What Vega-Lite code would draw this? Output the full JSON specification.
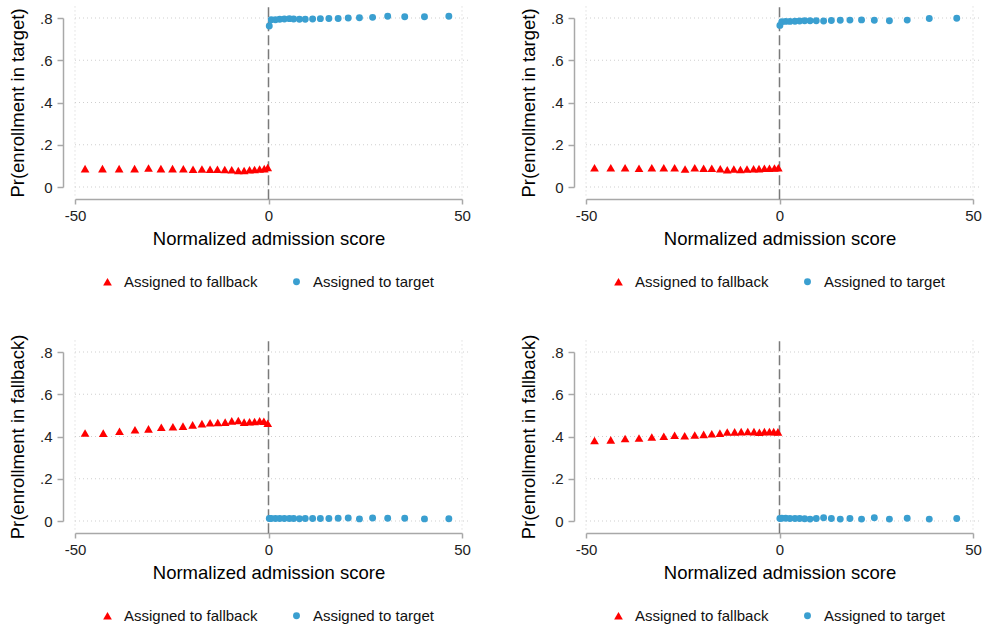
{
  "$schema": "https://vega.github.io/schema/vega-lite/v6.json",
  "padding": {"left": 8, "top": 3, "right": 0, "bottom": 0},
  "background": "white",
  "datasets": {
    "hgrid": [{"v": 0}, {"v": 0.2}, {"v": 0.4}, {"v": 0.6}, {"v": 0.8}],
    "vgrid": [{"v": -50}, {"v": 50}],
    "cutoff": [{"v": 0}],
    "points": [
      {"p": "a", "g": "Assigned to fallback", "x": -47.4, "y": 0.087},
      {"p": "a", "g": "Assigned to fallback", "x": -42.9, "y": 0.087},
      {"p": "a", "g": "Assigned to fallback", "x": -38.6, "y": 0.087},
      {"p": "a", "g": "Assigned to fallback", "x": -34.6, "y": 0.087},
      {"p": "a", "g": "Assigned to fallback", "x": -31.0, "y": 0.090},
      {"p": "a", "g": "Assigned to fallback", "x": -27.8, "y": 0.087},
      {"p": "a", "g": "Assigned to fallback", "x": -24.8, "y": 0.087},
      {"p": "a", "g": "Assigned to fallback", "x": -22.0, "y": 0.086},
      {"p": "a", "g": "Assigned to fallback", "x": -19.5, "y": 0.084},
      {"p": "a", "g": "Assigned to fallback", "x": -17.2, "y": 0.085},
      {"p": "a", "g": "Assigned to fallback", "x": -15.1, "y": 0.084},
      {"p": "a", "g": "Assigned to fallback", "x": -13.2, "y": 0.084},
      {"p": "a", "g": "Assigned to fallback", "x": -11.3, "y": 0.083},
      {"p": "a", "g": "Assigned to fallback", "x": -9.5, "y": 0.082},
      {"p": "a", "g": "Assigned to fallback", "x": -7.8, "y": 0.078},
      {"p": "a", "g": "Assigned to fallback", "x": -6.3, "y": 0.078},
      {"p": "a", "g": "Assigned to fallback", "x": -4.9, "y": 0.082},
      {"p": "a", "g": "Assigned to fallback", "x": -3.6, "y": 0.083},
      {"p": "a", "g": "Assigned to fallback", "x": -2.3, "y": 0.085},
      {"p": "a", "g": "Assigned to fallback", "x": -1.1, "y": 0.087},
      {"p": "a", "g": "Assigned to fallback", "x": -0.2, "y": 0.092},
      {"p": "a", "g": "Assigned to target", "x": 0.2, "y": 0.762},
      {"p": "a", "g": "Assigned to target", "x": 0.7, "y": 0.792},
      {"p": "a", "g": "Assigned to target", "x": 1.8, "y": 0.792},
      {"p": "a", "g": "Assigned to target", "x": 2.9, "y": 0.794},
      {"p": "a", "g": "Assigned to target", "x": 4.1, "y": 0.795},
      {"p": "a", "g": "Assigned to target", "x": 5.4, "y": 0.797},
      {"p": "a", "g": "Assigned to target", "x": 6.5, "y": 0.795},
      {"p": "a", "g": "Assigned to target", "x": 8.0, "y": 0.794},
      {"p": "a", "g": "Assigned to target", "x": 9.5, "y": 0.794},
      {"p": "a", "g": "Assigned to target", "x": 11.4, "y": 0.795},
      {"p": "a", "g": "Assigned to target", "x": 13.4, "y": 0.797},
      {"p": "a", "g": "Assigned to target", "x": 15.6, "y": 0.798},
      {"p": "a", "g": "Assigned to target", "x": 18.0, "y": 0.798},
      {"p": "a", "g": "Assigned to target", "x": 20.6, "y": 0.800},
      {"p": "a", "g": "Assigned to target", "x": 23.5, "y": 0.801},
      {"p": "a", "g": "Assigned to target", "x": 26.9, "y": 0.803},
      {"p": "a", "g": "Assigned to target", "x": 30.8, "y": 0.808},
      {"p": "a", "g": "Assigned to target", "x": 35.2, "y": 0.806},
      {"p": "a", "g": "Assigned to target", "x": 40.3, "y": 0.806},
      {"p": "a", "g": "Assigned to target", "x": 46.6, "y": 0.808},

      {"p": "b", "g": "Assigned to fallback", "x": -47.8, "y": 0.091},
      {"p": "b", "g": "Assigned to fallback", "x": -43.6, "y": 0.091},
      {"p": "b", "g": "Assigned to fallback", "x": -39.9, "y": 0.091},
      {"p": "b", "g": "Assigned to fallback", "x": -36.3, "y": 0.089},
      {"p": "b", "g": "Assigned to fallback", "x": -33.0, "y": 0.091},
      {"p": "b", "g": "Assigned to fallback", "x": -29.9, "y": 0.091},
      {"p": "b", "g": "Assigned to fallback", "x": -27.1, "y": 0.091},
      {"p": "b", "g": "Assigned to fallback", "x": -24.4, "y": 0.085},
      {"p": "b", "g": "Assigned to fallback", "x": -21.9, "y": 0.091},
      {"p": "b", "g": "Assigned to fallback", "x": -19.6, "y": 0.089},
      {"p": "b", "g": "Assigned to fallback", "x": -17.5, "y": 0.089},
      {"p": "b", "g": "Assigned to fallback", "x": -15.3, "y": 0.086},
      {"p": "b", "g": "Assigned to fallback", "x": -13.5, "y": 0.082},
      {"p": "b", "g": "Assigned to fallback", "x": -11.8, "y": 0.085},
      {"p": "b", "g": "Assigned to fallback", "x": -10.1, "y": 0.083},
      {"p": "b", "g": "Assigned to fallback", "x": -8.4, "y": 0.085},
      {"p": "b", "g": "Assigned to fallback", "x": -6.7, "y": 0.086},
      {"p": "b", "g": "Assigned to fallback", "x": -5.3, "y": 0.087},
      {"p": "b", "g": "Assigned to fallback", "x": -3.9, "y": 0.089},
      {"p": "b", "g": "Assigned to fallback", "x": -2.6, "y": 0.089},
      {"p": "b", "g": "Assigned to fallback", "x": -1.3, "y": 0.090},
      {"p": "b", "g": "Assigned to fallback", "x": -0.3, "y": 0.091},
      {"p": "b", "g": "Assigned to target", "x": 0.1, "y": 0.765},
      {"p": "b", "g": "Assigned to target", "x": 0.6, "y": 0.782},
      {"p": "b", "g": "Assigned to target", "x": 1.6, "y": 0.784},
      {"p": "b", "g": "Assigned to target", "x": 2.7, "y": 0.784},
      {"p": "b", "g": "Assigned to target", "x": 4.0, "y": 0.785},
      {"p": "b", "g": "Assigned to target", "x": 5.2, "y": 0.786},
      {"p": "b", "g": "Assigned to target", "x": 6.5, "y": 0.787},
      {"p": "b", "g": "Assigned to target", "x": 7.9, "y": 0.787},
      {"p": "b", "g": "Assigned to target", "x": 9.5, "y": 0.787},
      {"p": "b", "g": "Assigned to target", "x": 11.4, "y": 0.786},
      {"p": "b", "g": "Assigned to target", "x": 13.4, "y": 0.788},
      {"p": "b", "g": "Assigned to target", "x": 15.7, "y": 0.789},
      {"p": "b", "g": "Assigned to target", "x": 18.2, "y": 0.790},
      {"p": "b", "g": "Assigned to target", "x": 21.2, "y": 0.791},
      {"p": "b", "g": "Assigned to target", "x": 24.5, "y": 0.789},
      {"p": "b", "g": "Assigned to target", "x": 28.4, "y": 0.787},
      {"p": "b", "g": "Assigned to target", "x": 33.0, "y": 0.790},
      {"p": "b", "g": "Assigned to target", "x": 38.7, "y": 0.798},
      {"p": "b", "g": "Assigned to target", "x": 45.8, "y": 0.799},

      {"p": "c", "g": "Assigned to fallback", "x": -47.4, "y": 0.417},
      {"p": "c", "g": "Assigned to fallback", "x": -42.7, "y": 0.416},
      {"p": "c", "g": "Assigned to fallback", "x": -38.5, "y": 0.425},
      {"p": "c", "g": "Assigned to fallback", "x": -34.5, "y": 0.432},
      {"p": "c", "g": "Assigned to fallback", "x": -31.0, "y": 0.436},
      {"p": "c", "g": "Assigned to fallback", "x": -27.7, "y": 0.444},
      {"p": "c", "g": "Assigned to fallback", "x": -24.7, "y": 0.446},
      {"p": "c", "g": "Assigned to fallback", "x": -22.1, "y": 0.449},
      {"p": "c", "g": "Assigned to fallback", "x": -19.6, "y": 0.455},
      {"p": "c", "g": "Assigned to fallback", "x": -17.2, "y": 0.461},
      {"p": "c", "g": "Assigned to fallback", "x": -15.1, "y": 0.465},
      {"p": "c", "g": "Assigned to fallback", "x": -13.1, "y": 0.466},
      {"p": "c", "g": "Assigned to fallback", "x": -11.2, "y": 0.468},
      {"p": "c", "g": "Assigned to fallback", "x": -9.5, "y": 0.474},
      {"p": "c", "g": "Assigned to fallback", "x": -7.8, "y": 0.476},
      {"p": "c", "g": "Assigned to fallback", "x": -6.3, "y": 0.468},
      {"p": "c", "g": "Assigned to fallback", "x": -4.9, "y": 0.470},
      {"p": "c", "g": "Assigned to fallback", "x": -3.6, "y": 0.471},
      {"p": "c", "g": "Assigned to fallback", "x": -2.3, "y": 0.474},
      {"p": "c", "g": "Assigned to fallback", "x": -1.2, "y": 0.472},
      {"p": "c", "g": "Assigned to fallback", "x": -0.2, "y": 0.463},
      {"p": "c", "g": "Assigned to target", "x": 0.2, "y": 0.012},
      {"p": "c", "g": "Assigned to target", "x": 0.7, "y": 0.012},
      {"p": "c", "g": "Assigned to target", "x": 1.8, "y": 0.012},
      {"p": "c", "g": "Assigned to target", "x": 2.9, "y": 0.012},
      {"p": "c", "g": "Assigned to target", "x": 4.1, "y": 0.012},
      {"p": "c", "g": "Assigned to target", "x": 5.4, "y": 0.012},
      {"p": "c", "g": "Assigned to target", "x": 6.5, "y": 0.012},
      {"p": "c", "g": "Assigned to target", "x": 8.0, "y": 0.011},
      {"p": "c", "g": "Assigned to target", "x": 9.5, "y": 0.012},
      {"p": "c", "g": "Assigned to target", "x": 11.4, "y": 0.012},
      {"p": "c", "g": "Assigned to target", "x": 13.4, "y": 0.012},
      {"p": "c", "g": "Assigned to target", "x": 15.6, "y": 0.012},
      {"p": "c", "g": "Assigned to target", "x": 18.0, "y": 0.013},
      {"p": "c", "g": "Assigned to target", "x": 20.6, "y": 0.014},
      {"p": "c", "g": "Assigned to target", "x": 23.5, "y": 0.010},
      {"p": "c", "g": "Assigned to target", "x": 26.9, "y": 0.014},
      {"p": "c", "g": "Assigned to target", "x": 30.8, "y": 0.013},
      {"p": "c", "g": "Assigned to target", "x": 35.2, "y": 0.013},
      {"p": "c", "g": "Assigned to target", "x": 40.3, "y": 0.010},
      {"p": "c", "g": "Assigned to target", "x": 46.6, "y": 0.011},

      {"p": "d", "g": "Assigned to fallback", "x": -47.8, "y": 0.381},
      {"p": "d", "g": "Assigned to fallback", "x": -43.6, "y": 0.384},
      {"p": "d", "g": "Assigned to fallback", "x": -39.9, "y": 0.391},
      {"p": "d", "g": "Assigned to fallback", "x": -36.3, "y": 0.393},
      {"p": "d", "g": "Assigned to fallback", "x": -33.0, "y": 0.398},
      {"p": "d", "g": "Assigned to fallback", "x": -29.9, "y": 0.401},
      {"p": "d", "g": "Assigned to fallback", "x": -27.1, "y": 0.406},
      {"p": "d", "g": "Assigned to fallback", "x": -24.5, "y": 0.404},
      {"p": "d", "g": "Assigned to fallback", "x": -21.9, "y": 0.407},
      {"p": "d", "g": "Assigned to fallback", "x": -19.6, "y": 0.410},
      {"p": "d", "g": "Assigned to fallback", "x": -17.5, "y": 0.413},
      {"p": "d", "g": "Assigned to fallback", "x": -15.4, "y": 0.416},
      {"p": "d", "g": "Assigned to fallback", "x": -13.5, "y": 0.421},
      {"p": "d", "g": "Assigned to fallback", "x": -11.6, "y": 0.422},
      {"p": "d", "g": "Assigned to fallback", "x": -9.9, "y": 0.423},
      {"p": "d", "g": "Assigned to fallback", "x": -8.2, "y": 0.424},
      {"p": "d", "g": "Assigned to fallback", "x": -6.6, "y": 0.423},
      {"p": "d", "g": "Assigned to fallback", "x": -5.2, "y": 0.420},
      {"p": "d", "g": "Assigned to fallback", "x": -3.9, "y": 0.423},
      {"p": "d", "g": "Assigned to fallback", "x": -2.6, "y": 0.424},
      {"p": "d", "g": "Assigned to fallback", "x": -1.5, "y": 0.423},
      {"p": "d", "g": "Assigned to fallback", "x": -0.4, "y": 0.422},
      {"p": "d", "g": "Assigned to target", "x": 0.1, "y": 0.012},
      {"p": "d", "g": "Assigned to target", "x": 0.6, "y": 0.013},
      {"p": "d", "g": "Assigned to target", "x": 1.6, "y": 0.013},
      {"p": "d", "g": "Assigned to target", "x": 2.7, "y": 0.012},
      {"p": "d", "g": "Assigned to target", "x": 4.0, "y": 0.012},
      {"p": "d", "g": "Assigned to target", "x": 5.2, "y": 0.012},
      {"p": "d", "g": "Assigned to target", "x": 6.5, "y": 0.011},
      {"p": "d", "g": "Assigned to target", "x": 7.9, "y": 0.009},
      {"p": "d", "g": "Assigned to target", "x": 9.5, "y": 0.012},
      {"p": "d", "g": "Assigned to target", "x": 11.4, "y": 0.015},
      {"p": "d", "g": "Assigned to target", "x": 13.4, "y": 0.012},
      {"p": "d", "g": "Assigned to target", "x": 15.7, "y": 0.009},
      {"p": "d", "g": "Assigned to target", "x": 18.2, "y": 0.012},
      {"p": "d", "g": "Assigned to target", "x": 21.2, "y": 0.009},
      {"p": "d", "g": "Assigned to target", "x": 24.5, "y": 0.015},
      {"p": "d", "g": "Assigned to target", "x": 28.4, "y": 0.009},
      {"p": "d", "g": "Assigned to target", "x": 33.0, "y": 0.013},
      {"p": "d", "g": "Assigned to target", "x": 38.7, "y": 0.009},
      {"p": "d", "g": "Assigned to target", "x": 45.8, "y": 0.012}
    ]
  },
  "columns": 2,
  "bounds": "flush",
  "spacing": {"row": 165, "column": 124},
  "resolve": {
    "scale": {"color": "independent", "shape": "independent", "size": "independent"},
    "legend": {"color": "independent", "shape": "independent", "size": "independent"}
  },
  "concat": [
    {
      "width": 387, "height": 169,
      "layer": [
        {"data": {"name": "hgrid"}, "mark": {"type": "rule", "color": "#cfcfcf", "strokeDash": [1, 3], "strokeWidth": 1, "clip": false},
         "encoding": {"y": {"field": "v", "type": "quantitative", "scale": {"domain": [0, 0.8], "nice": false, "zero": false}, "axis": {"title": "Pr(enrollment in target)", "values": [0, 0.2, 0.4, 0.6, 0.8], "labelExpr": "datum.value == 0 ? '0' : replace(format(datum.value, '.1f'), '0.', '.')"}}, "x": {"datum": -50, "scale": {"domain": [-50, 50], "nice": false, "zero": false}, "axis": {"title": "Normalized admission score", "values": [-50, 0, 50], "labelExpr": "'' + datum.value"}}, "x2": {"datum": 51.8}}},
        {"data": {"name": "vgrid"}, "mark": {"type": "rule", "color": "#cfcfcf", "strokeDash": [1, 3], "strokeWidth": 1, "clip": false},
         "encoding": {"x": {"field": "v", "type": "quantitative", "axis": {"title": "Normalized admission score", "values": [-50, 0, 50], "labelExpr": "'' + datum.value"}}, "y": {"datum": -0.04, "axis": {"title": "Pr(enrollment in target)", "values": [0, 0.2, 0.4, 0.6, 0.8], "labelExpr": "datum.value == 0 ? '0' : replace(format(datum.value, '.1f'), '0.', '.')"}}, "y2": {"datum": 0.857}}},
        {"data": {"name": "cutoff"}, "mark": {"type": "rule", "color": "#7a7a7a", "strokeDash": [10, 4], "strokeWidth": 1.5, "clip": false},
         "encoding": {"x": {"field": "v", "type": "quantitative", "axis": {"title": "Normalized admission score", "values": [-50, 0, 50], "labelExpr": "'' + datum.value"}}, "y": {"datum": -0.058, "axis": {"title": "Pr(enrollment in target)", "values": [0, 0.2, 0.4, 0.6, 0.8], "labelExpr": "datum.value == 0 ? '0' : replace(format(datum.value, '.1f'), '0.', '.')"}}, "y2": {"datum": 0.864}}},
        {"data": {"name": "points"}, "transform": [{"filter": "datum.p === 'a'"}],
         "mark": {"type": "point", "filled": true, "opacity": 1, "strokeWidth": 0, "clip": false},
         "encoding": {
           "x": {"field": "x", "type": "quantitative", "axis": {"title": "Normalized admission score", "values": [-50, 0, 50], "labelExpr": "'' + datum.value"}},
           "y": {"field": "y", "type": "quantitative", "axis": {"title": "Pr(enrollment in target)", "values": [0, 0.2, 0.4, 0.6, 0.8], "labelExpr": "datum.value == 0 ? '0' : replace(format(datum.value, '.1f'), '0.', '.')"}},
           "color": {"field": "g", "type": "nominal", "scale": {"domain": ["Assigned to fallback", "Assigned to target"], "range": ["#ff0000", "#3a9fd0"]}, "legend": {"orient": "none", "legendX": 25, "legendY": 256, "direction": "horizontal", "title": null}},
           "shape": {"field": "g", "type": "nominal", "scale": {"domain": ["Assigned to fallback", "Assigned to target"], "range": ["triangle-up", "circle"]}, "legend": {"orient": "none", "legendX": 25, "legendY": 256, "direction": "horizontal", "title": null}},
           "size": {"field": "g", "type": "nominal", "scale": {"domain": ["Assigned to fallback", "Assigned to target"], "range": [76, 48]}, "legend": {"orient": "none", "legendX": 25, "legendY": 256, "direction": "horizontal", "title": null}}
         }}
      ]
    },
    {
      "width": 387, "height": 169,
      "layer": [
        {"data": {"name": "hgrid"}, "mark": {"type": "rule", "color": "#cfcfcf", "strokeDash": [1, 3], "strokeWidth": 1, "clip": false},
         "encoding": {"y": {"field": "v", "type": "quantitative", "scale": {"domain": [0, 0.8], "nice": false, "zero": false}, "axis": {"title": "Pr(enrollment in target)", "values": [0, 0.2, 0.4, 0.6, 0.8], "labelExpr": "datum.value == 0 ? '0' : replace(format(datum.value, '.1f'), '0.', '.')"}}, "x": {"datum": -50, "scale": {"domain": [-50, 50], "nice": false, "zero": false}, "axis": {"title": "Normalized admission score", "values": [-50, 0, 50], "labelExpr": "'' + datum.value"}}, "x2": {"datum": 51.8}}},
        {"data": {"name": "vgrid"}, "mark": {"type": "rule", "color": "#cfcfcf", "strokeDash": [1, 3], "strokeWidth": 1, "clip": false},
         "encoding": {"x": {"field": "v", "type": "quantitative", "axis": {"title": "Normalized admission score", "values": [-50, 0, 50], "labelExpr": "'' + datum.value"}}, "y": {"datum": -0.04, "axis": {"title": "Pr(enrollment in target)", "values": [0, 0.2, 0.4, 0.6, 0.8], "labelExpr": "datum.value == 0 ? '0' : replace(format(datum.value, '.1f'), '0.', '.')"}}, "y2": {"datum": 0.857}}},
        {"data": {"name": "cutoff"}, "mark": {"type": "rule", "color": "#7a7a7a", "strokeDash": [10, 4], "strokeWidth": 1.5, "clip": false},
         "encoding": {"x": {"field": "v", "type": "quantitative", "axis": {"title": "Normalized admission score", "values": [-50, 0, 50], "labelExpr": "'' + datum.value"}}, "y": {"datum": -0.058, "axis": {"title": "Pr(enrollment in target)", "values": [0, 0.2, 0.4, 0.6, 0.8], "labelExpr": "datum.value == 0 ? '0' : replace(format(datum.value, '.1f'), '0.', '.')"}}, "y2": {"datum": 0.864}}},
        {"data": {"name": "points"}, "transform": [{"filter": "datum.p === 'b'"}],
         "mark": {"type": "point", "filled": true, "opacity": 1, "strokeWidth": 0, "clip": false},
         "encoding": {
           "x": {"field": "x", "type": "quantitative", "axis": {"title": "Normalized admission score", "values": [-50, 0, 50], "labelExpr": "'' + datum.value"}},
           "y": {"field": "y", "type": "quantitative", "axis": {"title": "Pr(enrollment in target)", "values": [0, 0.2, 0.4, 0.6, 0.8], "labelExpr": "datum.value == 0 ? '0' : replace(format(datum.value, '.1f'), '0.', '.')"}},
           "color": {"field": "g", "type": "nominal", "scale": {"domain": ["Assigned to fallback", "Assigned to target"], "range": ["#ff0000", "#3a9fd0"]}, "legend": {"orient": "none", "legendX": 25, "legendY": 256, "direction": "horizontal", "title": null}},
           "shape": {"field": "g", "type": "nominal", "scale": {"domain": ["Assigned to fallback", "Assigned to target"], "range": ["triangle-up", "circle"]}, "legend": {"orient": "none", "legendX": 25, "legendY": 256, "direction": "horizontal", "title": null}},
           "size": {"field": "g", "type": "nominal", "scale": {"domain": ["Assigned to fallback", "Assigned to target"], "range": [76, 48]}, "legend": {"orient": "none", "legendX": 25, "legendY": 256, "direction": "horizontal", "title": null}}
         }}
      ]
    },
    {
      "width": 387, "height": 169,
      "layer": [
        {"data": {"name": "hgrid"}, "mark": {"type": "rule", "color": "#cfcfcf", "strokeDash": [1, 3], "strokeWidth": 1, "clip": false},
         "encoding": {"y": {"field": "v", "type": "quantitative", "scale": {"domain": [0, 0.8], "nice": false, "zero": false}, "axis": {"title": "Pr(enrollment in fallback)", "values": [0, 0.2, 0.4, 0.6, 0.8], "labelExpr": "datum.value == 0 ? '0' : replace(format(datum.value, '.1f'), '0.', '.')"}}, "x": {"datum": -50, "scale": {"domain": [-50, 50], "nice": false, "zero": false}, "axis": {"title": "Normalized admission score", "values": [-50, 0, 50], "labelExpr": "'' + datum.value"}}, "x2": {"datum": 51.8}}},
        {"data": {"name": "vgrid"}, "mark": {"type": "rule", "color": "#cfcfcf", "strokeDash": [1, 3], "strokeWidth": 1, "clip": false},
         "encoding": {"x": {"field": "v", "type": "quantitative", "axis": {"title": "Normalized admission score", "values": [-50, 0, 50], "labelExpr": "'' + datum.value"}}, "y": {"datum": -0.04, "axis": {"title": "Pr(enrollment in fallback)", "values": [0, 0.2, 0.4, 0.6, 0.8], "labelExpr": "datum.value == 0 ? '0' : replace(format(datum.value, '.1f'), '0.', '.')"}}, "y2": {"datum": 0.857}}},
        {"data": {"name": "cutoff"}, "mark": {"type": "rule", "color": "#7a7a7a", "strokeDash": [10, 4], "strokeWidth": 1.5, "clip": false},
         "encoding": {"x": {"field": "v", "type": "quantitative", "axis": {"title": "Normalized admission score", "values": [-50, 0, 50], "labelExpr": "'' + datum.value"}}, "y": {"datum": -0.058, "axis": {"title": "Pr(enrollment in fallback)", "values": [0, 0.2, 0.4, 0.6, 0.8], "labelExpr": "datum.value == 0 ? '0' : replace(format(datum.value, '.1f'), '0.', '.')"}}, "y2": {"datum": 0.864}}},
        {"data": {"name": "points"}, "transform": [{"filter": "datum.p === 'c'"}],
         "mark": {"type": "point", "filled": true, "opacity": 1, "strokeWidth": 0, "clip": false},
         "encoding": {
           "x": {"field": "x", "type": "quantitative", "axis": {"title": "Normalized admission score", "values": [-50, 0, 50], "labelExpr": "'' + datum.value"}},
           "y": {"field": "y", "type": "quantitative", "axis": {"title": "Pr(enrollment in fallback)", "values": [0, 0.2, 0.4, 0.6, 0.8], "labelExpr": "datum.value == 0 ? '0' : replace(format(datum.value, '.1f'), '0.', '.')"}},
           "color": {"field": "g", "type": "nominal", "scale": {"domain": ["Assigned to fallback", "Assigned to target"], "range": ["#ff0000", "#3a9fd0"]}, "legend": {"orient": "none", "legendX": 25, "legendY": 256, "direction": "horizontal", "title": null}},
           "shape": {"field": "g", "type": "nominal", "scale": {"domain": ["Assigned to fallback", "Assigned to target"], "range": ["triangle-up", "circle"]}, "legend": {"orient": "none", "legendX": 25, "legendY": 256, "direction": "horizontal", "title": null}},
           "size": {"field": "g", "type": "nominal", "scale": {"domain": ["Assigned to fallback", "Assigned to target"], "range": [76, 48]}, "legend": {"orient": "none", "legendX": 25, "legendY": 256, "direction": "horizontal", "title": null}}
         }}
      ]
    },
    {
      "width": 387, "height": 169,
      "layer": [
        {"data": {"name": "hgrid"}, "mark": {"type": "rule", "color": "#cfcfcf", "strokeDash": [1, 3], "strokeWidth": 1, "clip": false},
         "encoding": {"y": {"field": "v", "type": "quantitative", "scale": {"domain": [0, 0.8], "nice": false, "zero": false}, "axis": {"title": "Pr(enrollment in fallback)", "values": [0, 0.2, 0.4, 0.6, 0.8], "labelExpr": "datum.value == 0 ? '0' : replace(format(datum.value, '.1f'), '0.', '.')"}}, "x": {"datum": -50, "scale": {"domain": [-50, 50], "nice": false, "zero": false}, "axis": {"title": "Normalized admission score", "values": [-50, 0, 50], "labelExpr": "'' + datum.value"}}, "x2": {"datum": 51.8}}},
        {"data": {"name": "vgrid"}, "mark": {"type": "rule", "color": "#cfcfcf", "strokeDash": [1, 3], "strokeWidth": 1, "clip": false},
         "encoding": {"x": {"field": "v", "type": "quantitative", "axis": {"title": "Normalized admission score", "values": [-50, 0, 50], "labelExpr": "'' + datum.value"}}, "y": {"datum": -0.04, "axis": {"title": "Pr(enrollment in fallback)", "values": [0, 0.2, 0.4, 0.6, 0.8], "labelExpr": "datum.value == 0 ? '0' : replace(format(datum.value, '.1f'), '0.', '.')"}}, "y2": {"datum": 0.857}}},
        {"data": {"name": "cutoff"}, "mark": {"type": "rule", "color": "#7a7a7a", "strokeDash": [10, 4], "strokeWidth": 1.5, "clip": false},
         "encoding": {"x": {"field": "v", "type": "quantitative", "axis": {"title": "Normalized admission score", "values": [-50, 0, 50], "labelExpr": "'' + datum.value"}}, "y": {"datum": -0.058, "axis": {"title": "Pr(enrollment in fallback)", "values": [0, 0.2, 0.4, 0.6, 0.8], "labelExpr": "datum.value == 0 ? '0' : replace(format(datum.value, '.1f'), '0.', '.')"}}, "y2": {"datum": 0.864}}},
        {"data": {"name": "points"}, "transform": [{"filter": "datum.p === 'd'"}],
         "mark": {"type": "point", "filled": true, "opacity": 1, "strokeWidth": 0, "clip": false},
         "encoding": {
           "x": {"field": "x", "type": "quantitative", "axis": {"title": "Normalized admission score", "values": [-50, 0, 50], "labelExpr": "'' + datum.value"}},
           "y": {"field": "y", "type": "quantitative", "axis": {"title": "Pr(enrollment in fallback)", "values": [0, 0.2, 0.4, 0.6, 0.8], "labelExpr": "datum.value == 0 ? '0' : replace(format(datum.value, '.1f'), '0.', '.')"}},
           "color": {"field": "g", "type": "nominal", "scale": {"domain": ["Assigned to fallback", "Assigned to target"], "range": ["#ff0000", "#3a9fd0"]}, "legend": {"orient": "none", "legendX": 25, "legendY": 256, "direction": "horizontal", "title": null}},
           "shape": {"field": "g", "type": "nominal", "scale": {"domain": ["Assigned to fallback", "Assigned to target"], "range": ["triangle-up", "circle"]}, "legend": {"orient": "none", "legendX": 25, "legendY": 256, "direction": "horizontal", "title": null}},
           "size": {"field": "g", "type": "nominal", "scale": {"domain": ["Assigned to fallback", "Assigned to target"], "range": [76, 48]}, "legend": {"orient": "none", "legendX": 25, "legendY": 256, "direction": "horizontal", "title": null}}
         }}
      ]
    }
  ],
  "config": {
    "font": "Liberation Sans",
    "view": {"stroke": null},
    "axis": {
      "grid": false,
      "domainColor": "#a8a8a8",
      "domainWidth": 1.5,
      "tickColor": "#a8a8a8",
      "tickWidth": 1.5,
      "labelFontSize": 15,
      "labelColor": "#222222",
      "titleFontSize": 18.5,
      "titleFontWeight": "normal",
      "titleColor": "#000000",
      "offset": 12
    },
    "axisX": {
      "tickSize": 5,
      "labelPadding": 4,
      "titlePadding": 6,
      "labelFlush": false
    },
    "axisY": {
      "tickSize": 6,
      "labelPadding": 5,
      "titlePadding": 12
    },
    "legend": {
      "labelFontSize": 15,
      "labelColor": "#111111",
      "labelOffset": 9,
      "columnPadding": 31,
      "padding": 0,
      "symbolStrokeWidth": 0,
      "labelLimit": 300
    }
  }
}
